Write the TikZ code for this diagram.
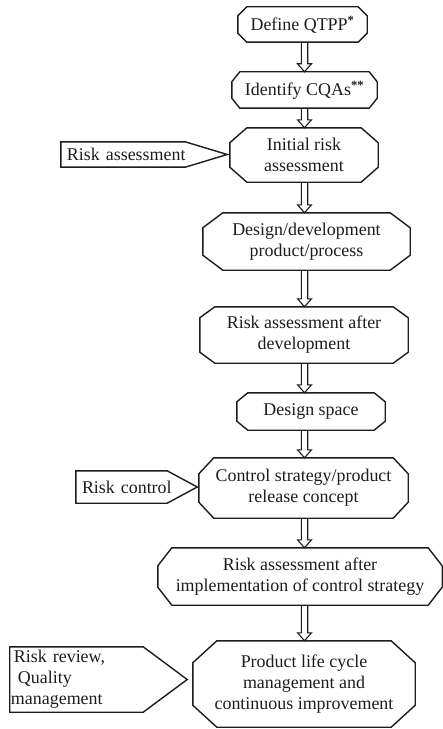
\documentclass[tikz,border=0pt]{standalone}
\usepackage{fontspec}
\setmainfont{Liberation Serif}
\usetikzlibrary{calc}

\definecolor{ink}{HTML}{1C1C1C}

% octagonal step box: outline drawn from the node's corners
% #1 node name, #2 horizontal chamfer, #3 vertical chamfer
\newcommand{\octline}[3]{%
  \draw[boxline]
    ([xshift=#2bp]#1.north west) -- ([xshift=-#2bp]#1.north east)
    -- ([yshift=-#3bp]#1.north east) -- ([yshift=#3bp]#1.south east)
    -- ([xshift=-#2bp]#1.south east) -- ([xshift=#2bp]#1.south west)
    -- ([yshift=#3bp]#1.south west) -- ([yshift=-#3bp]#1.north west) -- cycle;}

% pointed side label: rectangle whose right side ends in a point
% #1 node name, #2 depth of the point
\newcommand{\tagline}[2]{%
  \draw[boxline]
    (#1.north west) -- ([xshift=-#2bp]#1.north east) -- (#1.east)
    -- ([xshift=-#2bp]#1.south east) -- (#1.south west) -- cycle;}

\tikzset{
  boxline/.style={draw=ink, line width=1.4bp, line join=miter},
  stepbox/.style={inner sep=0pt, align=center, text=ink,
    font=\fontsize{18}{21}\selectfont},
  sidetag/.style={inner ysep=0pt, inner xsep=#1, align=left, text=ink,
    font=\fontsize{18}{21}\selectfont},
  flowarrow/.style={draw=ink, line width=1.1bp, line join=miter,
    to path={let \p1=(\tikztostart), \p2=(\tikztotarget), \p3=(axis) in
      (\x3-3.2bp,\y1) -- (\x3-3.2bp,\y2+8bp) -- (\x3-7bp,\y2+8bp)
      -- (\x3,\y2) -- (\x3+7bp,\y2+8bp) -- (\x3+3.2bp,\y2+8bp)
      -- (\x3+3.2bp,\y1)}}
}

\begin{document}
\begin{tikzpicture}[x=1bp, y=-1bp]
\useasboundingbox (0,0) rectangle (443,729);
\coordinate (axis) at (304.5,0);

% main sequence of steps
\node[stepbox, minimum width=129bp, minimum height=35bp] (qtpp) at (302.5,24.5)
  {Define QTPP\textsuperscript{\textbf{*}}};
\node[stepbox, minimum width=145bp, minimum height=36bp] (cqa) at (304.5,90)
  {Identify CQAs\textsuperscript{\textbf{**}}};
\node[stepbox, minimum width=148bp, minimum height=54bp] (initial) at (304,155)
  {Initial risk\\assessment};
\node[stepbox, minimum width=207bp, minimum height=57bp] (design) at (306.5,241.5)
  {Design/development\\product/process};
\node[stepbox, minimum width=208bp, minimum height=56bp] (afterdev) at (304,335)
  {Risk assessment after\\development};
\node[stepbox, minimum width=148bp, minimum height=37bp] (space) at (311,411.5)
  {Design space};
\node[stepbox, minimum width=209bp, minimum height=60bp] (control) at (303.5,488)
  {Control strategy/product\\release concept};
\node[stepbox, minimum width=284bp, minimum height=57bp] (afterimpl) at (300,576.5)
  {Risk assessment after\\implementation of control strategy};
\node[stepbox, minimum width=222bp, minimum height=86bp] (lifecycle) at (304,684)
  {Product life cycle\\management and\\continuous improvement};

\octline{qtpp}{9}{9}
\octline{cqa}{8}{10}
\octline{initial}{17}{15}
\octline{design}{20}{15}
\octline{afterdev}{15}{11}
\octline{space}{11}{9}
\octline{control}{15}{16}
\octline{afterimpl}{14}{18}
\octline{lifecycle}{24}{22}

% side labels
\node[sidetag=6bp, text width=154bp, minimum height=25bp] (riskassess) at (144,154.5)
  {Risk assessment};
\node[sidetag=6bp, text width=109bp, minimum height=32bp] (riskcontrol) at (136.5,487)
  {Risk control};
\node[sidetag=4bp, text width=169bp, minimum height=65bp] (riskreview) at (98.5,679.5)
  {Risk review,\\\hspace*{4bp}Quality\\\hspace*{-3bp}management};

\tagline{riskassess}{42}
\tagline{riskcontrol}{30}
\tagline{riskreview}{44}

% hollow arrows between steps
\draw[flowarrow] (qtpp.south) to (cqa.north);
\draw[flowarrow] (cqa.south) to (initial.north);
\draw[flowarrow] (initial.south) to (design.north);
\draw[flowarrow] (design.south) to (afterdev.north);
\draw[flowarrow] (afterdev.south) to (space.north);
\draw[flowarrow] (space.south) to (control.north);
\draw[flowarrow] (control.south) to (afterimpl.north);
\draw[flowarrow] (afterimpl.south) to (lifecycle.north);
\end{tikzpicture}
\end{document}
